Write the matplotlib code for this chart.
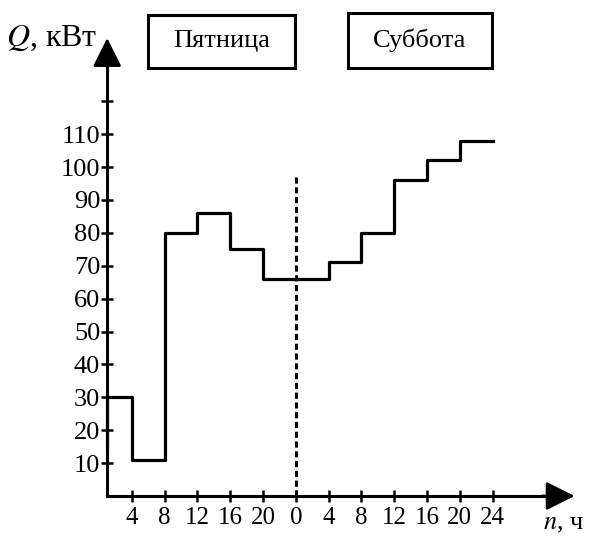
#Import libraries
import matplotlib
matplotlib.use("Agg")
import matplotlib.pyplot as plt
from matplotlib.patches import Rectangle

plt.rcParams["font.family"] = ["Liberation Serif", "DejaVu Serif"]
plt.rcParams["mathtext.fontset"] = "stix"

#Data: load by 4-hour blocks, Friday then Saturday
hours = [0, 4, 8, 12, 16, 20, 24, 28, 32, 36, 40, 44, 48]
load_friday = [30, 11, 80, 86, 75, 66]
load_saturday = [66, 71, 80, 96, 102, 108]
start_load = 15          # small step at the very start of the axis
x_tick_labels = ["4", "8", "12", "16", "20", "0", "4", "8", "12", "16", "20", "24"]
y_ticks = [10, 20, 30, 40, 50, 60, 70, 80, 90, 100, 110, 120]
day_names = ["Пятница", "Суббота"]

#Figure with one axes covering everything
fig = plt.figure(figsize=(5.93, 5.37), dpi=100)
ax = fig.add_axes([0, 0, 1, 1])
ax.set_xlim(-12.07, 60.24)
ax.set_ylim(-12.46, 150.76)
ax.patch.set_alpha(0)

x0 = 1   # where the vertical axis sits
ax.spines["top"].set_visible(False)
ax.spines["right"].set_visible(False)
ax.spines["left"].set_position(("data", x0))
ax.spines["bottom"].set_position(("data", 0))
ax.spines["left"].set_bounds(0, 134)
ax.spines["bottom"].set_bounds(x0, 56)
ax.spines["left"].set_linewidth(2.2)
ax.spines["bottom"].set_linewidth(2.2)

ax.set_xticks(hours[1:])
ax.set_xticklabels(x_tick_labels, fontsize=18)
ax.set_yticks(y_ticks)
ax.set_yticklabels([str(v) for v in y_ticks[:-1]] + [""], fontsize=19)
ax.tick_params(direction="inout", length=8, width=1.8)
ax.tick_params(axis="x", pad=4)
ax.tick_params(axis="y", pad=1)

#Axis arrows
ax.annotate("", xy=(x0, 139.2), xytext=(x0, 130),
            arrowprops=dict(arrowstyle="-|>,head_length=0.8,head_width=0.4",
                            color="black", lw=2, mutation_scale=22,
                            shrinkA=0, shrinkB=0))
ax.annotate("", xy=(58.0, 0), xytext=(54, 0),
            arrowprops=dict(arrowstyle="-|>,head_length=0.8,head_width=0.4",
                            color="black", lw=2, mutation_scale=22,
                            shrinkA=0, shrinkB=0))

#Step line of the load
loads = load_friday + load_saturday
step_x = [x0, x0] + hours[1:]
step_y = [start_load] + loads + [loads[-1]]
ax.step(step_x, step_y, where="post", color="black", lw=2.3)

#Dashed border between days
ax.plot([hours[6], hours[6]], [0, 97], color="black", lw=2.2, ls=(0, (2, 1.2)))

#Day boxes
ax.add_patch(Rectangle((5.98, 130.1), 17.9, 16.1, fill=False, lw=2.2, ec="black"))
ax.add_patch(Rectangle((30.4, 130.1), 17.5, 16.7, fill=False, lw=2.2, ec="black"))
ax.text(14.9, 138.3, day_names[0], fontsize=19, ha="center", va="center")
ax.text(39.1, 138.6, day_names[1], fontsize=19, ha="center", va="center")

#Axis titles
ax.text(-11.3, 139.0, r"$Q$, кВт", fontsize=23, ha="left", va="center")
ax.text(54.2, -8.6, r"$n$, ч", fontsize=19, ha="left", va="center")

#Save plot
plt.savefig("out.png", dpi=100)
